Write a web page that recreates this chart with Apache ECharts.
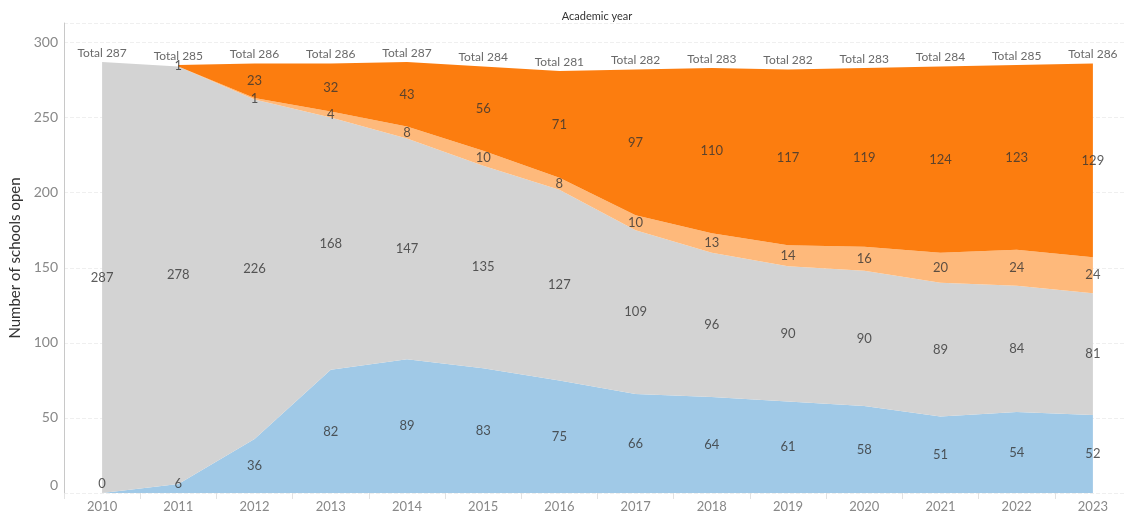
<!DOCTYPE html>
<html>
<head>
<meta charset="utf-8">
<script src="https://cdn.jsdelivr.net/npm/echarts@6/dist/echarts.min.js"></script>
<style>
  html, body { margin: 0; padding: 0; background: #fff; }
  #chart { width: 1126px; height: 516px; }
</style>
</head>
<body>
<div id="chart"></div>
<script>
var years = ['2010', '2011', '2012', '2013', '2014', '2015', '2016', '2017', '2018', '2019', '2020', '2021', '2022', '2023'];
var blueVals = [0, 6, 36, 82, 89, 83, 75, 66, 64, 61, 58, 51, 54, 52];
var grayVals = [287, 278, 226, 168, 147, 135, 127, 109, 96, 90, 90, 89, 84, 81];
var lightOrangeVals = [0, 0, 1, 4, 8, 10, 8, 10, 13, 14, 16, 20, 24, 24];
var darkOrangeVals = [null, 1, 23, 32, 43, 56, 71, 97, 110, 117, 119, 124, 123, 129];
var yTicks = [0, 50, 100, 150, 200, 250, 300];

var layers = [
    { vals: blueVals, color: '#a0c9e7', showZero: true },
    { vals: grayVals, color: '#d3d3d3', showZero: true },
    { vals: lightOrangeVals, color: '#feb97b', showZero: false },
    { vals: darkOrangeVals, color: '#fc7d0f', showZero: false }
];

var fontFam = 'Lato, "Open Sans", sans-serif';

// label points in the middle of each band, plus stack totals
var midPoints = [];
var base = years.map(function () { return 0; });
layers.forEach(function (l) {
    l.vals.forEach(function (v, i) {
        if (v == null) return;
        if (v > 0 || l.showZero) {
            midPoints.push([i, Math.max(base[i] + v / 2, 6), v]);
        }
        base[i] += v;
    });
});
var totals = base.map(function (t, i) { return [i, t]; });

var myChart = echarts.init(document.getElementById('chart'));
var series = layers.map(function (l) {
    return {
        type: 'line',
        stack: 'schools',
        data: l.vals,
        showSymbol: false,
        symbol: 'none',
        lineStyle: { width: 0 },
        areaStyle: { color: l.color, opacity: 1 },
        silent: true,
        z: 2
    };
});
series.push({
    type: 'scatter',
    data: midPoints,
    symbolSize: 0,
    z: 5,
    label: {
        show: true,
        position: 'inside',
        formatter: function (p) { return p.data[2]; },
        color: '#333',
        fontSize: 13,
        fontFamily: fontFam
    }
});
series.push({
    type: 'scatter',
    data: totals,
    symbolSize: 0,
    z: 5,
    label: {
        show: true,
        position: 'top',
        distance: 3,
        formatter: function (p) { return 'Total ' + p.data[1]; },
        color: '#444',
        fontSize: 12,
        fontFamily: fontFam
    }
});

var option = {
    animation: false,
    title: {
        text: 'Academic year',
        left: 592,
        textAlign: 'center',
        top: 6,
        textStyle: { fontSize: 11, fontWeight: 'normal', color: '#333', fontFamily: fontFam }
    },
    grid: { left: 64, right: -5, top: 23, bottom: 23, containLabel: false, outerBoundsMode: 'none' },
    xAxis: {
        type: 'category',
        data: years,
        boundaryGap: true,
        axisLine: { show: false },
        axisTick: { show: true, length: 6, lineStyle: { color: '#e2e2e2' } },
        axisLabel: { color: '#888', fontSize: 13, margin: 7, fontFamily: fontFam },
        splitLine: { show: false }
    },
    yAxis: {
        type: 'value',
        min: 0,
        max: 313,
        interval: 50,
        name: 'Number of schools open',
        nameLocation: 'middle',
        nameGap: 40,
        nameTextStyle: { fontSize: 15, color: '#333', fontFamily: fontFam },
        axisLine: { show: true, lineStyle: { color: '#c8c8c8' } },
        axisTick: { show: false },
        axisLabel: {
            color: '#888',
            fontSize: 14,
            margin: 6,
            fontFamily: fontFam,
            formatter: function (v) {
                if (yTicks.indexOf(v) < 0) return '';
                return v === 0 ? '{low|0}' : String(v);
            },
            rich: {
                low: { color: '#888', fontSize: 14, fontFamily: fontFam, padding: [0, 0, 16, 0] }
            }
        },
        splitLine: { show: true, lineStyle: { color: '#efefef', type: 'dashed' } }
    },
    series: series
};
myChart.setOption(option);
</script>
</body>
</html>
